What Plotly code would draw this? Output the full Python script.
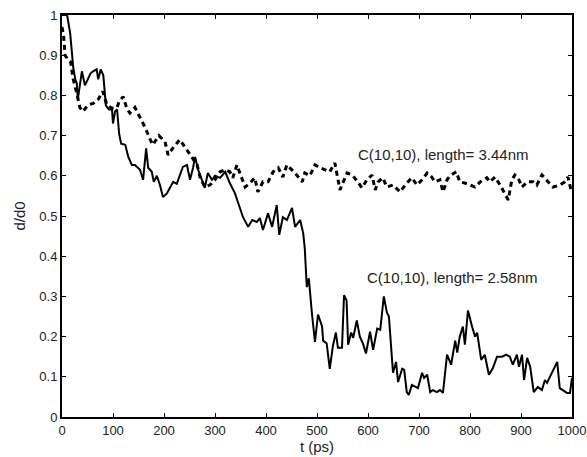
import plotly.graph_objects as go

# Solid curve: C(10,10), length = 2.58 nm
t_258 = [0, 5, 10, 16, 22, 26, 29, 31, 35, 39,
         45, 51, 56, 61, 68, 71, 76, 81, 86, 92,
         98, 100, 104, 108, 112, 116, 124, 130, 137, 143,
         153, 159, 165, 169, 176, 180, 186, 192, 198, 206,
         212, 218, 225, 231, 237, 245, 251, 257, 261, 267,
         274, 280, 286, 294, 300, 310, 320, 329, 339, 349,
         355, 365, 373, 382, 388, 394, 404, 412, 421, 426,
         433, 441, 451, 457, 467, 473, 476, 480, 484, 490,
         496, 502, 510, 512, 519, 525, 531, 537, 541, 549,
         553, 558, 561, 567, 571, 578, 584, 590, 596, 604,
         610, 618, 624, 631, 637, 641, 649, 655, 659, 667,
         671, 676, 680, 686, 692, 698, 706, 710, 716, 722,
         727, 735, 741, 747, 755, 763, 771, 775, 780, 786,
         790, 796, 804, 810, 814, 822, 829, 837, 845, 853,
         863, 871, 878, 884, 892, 896, 902, 906, 912, 918,
         925, 933, 941, 947, 951, 961, 971, 976, 982, 990,
         996, 1000]
d_258 = [1.0, 1.0, 1.0, 0.955, 0.87, 0.84, 0.83, 0.79, 0.83, 0.86,
         0.825, 0.84, 0.855, 0.86, 0.865, 0.84, 0.865, 0.85, 0.775, 0.765,
         0.765, 0.73, 0.76, 0.765, 0.705, 0.68, 0.677, 0.647, 0.627, 0.627,
         0.615, 0.59, 0.668, 0.62, 0.61, 0.585, 0.60, 0.577, 0.547, 0.557,
         0.57, 0.585, 0.58, 0.60, 0.622, 0.627, 0.59, 0.62, 0.647, 0.615,
         0.59, 0.57, 0.607, 0.59, 0.60, 0.595, 0.61, 0.582, 0.557, 0.522,
         0.497, 0.473, 0.49, 0.485, 0.495, 0.465, 0.507, 0.473, 0.527, 0.453,
         0.497, 0.49, 0.52, 0.473, 0.49, 0.457, 0.42, 0.323, 0.345, 0.258,
         0.187, 0.255, 0.225, 0.19, 0.183, 0.12, 0.175, 0.21, 0.172, 0.172,
         0.303, 0.29, 0.18, 0.21, 0.197, 0.24, 0.2, 0.183, 0.158, 0.212,
         0.167, 0.22, 0.217, 0.30, 0.26, 0.25, 0.11, 0.137, 0.087, 0.12,
         0.117, 0.062, 0.055, 0.08, 0.075, 0.072, 0.11, 0.097, 0.105, 0.062,
         0.067, 0.062, 0.067, 0.06, 0.155, 0.13, 0.19, 0.16, 0.2, 0.225,
         0.18, 0.265, 0.225, 0.2, 0.21, 0.142, 0.155, 0.105, 0.122, 0.15,
         0.15, 0.155, 0.15, 0.13, 0.155, 0.125, 0.155, 0.092, 0.147, 0.125,
         0.062, 0.075, 0.067, 0.092, 0.085, 0.11, 0.137, 0.072, 0.067, 0.06,
         0.06, 0.097]

# Dashed curve: C(10,10), length = 3.44 nm
t_344 = [0, 3, 6, 12, 17, 22, 29, 35, 41, 51,
         61, 71, 80, 88, 98, 108, 112, 120, 127, 133,
         143, 149, 163, 173, 178, 190, 202, 208, 218, 231,
         245, 255, 265, 271, 280, 290, 300, 310, 320, 329,
         335, 343, 349, 359, 369, 378, 384, 394, 404, 414,
         424, 433, 441, 447, 457, 471, 476, 486, 496, 506,
         515, 525, 535, 539, 545, 559, 569, 580, 588, 598,
         608, 614, 620, 629, 637, 649, 663, 676, 686, 696,
         706, 716, 725, 731, 741, 747, 755, 761, 773, 780,
         790, 800, 810, 820, 833, 839, 849, 859, 867, 875,
         882, 888, 894, 902, 912, 924, 931, 941, 947, 953,
         963, 976, 986, 992, 998]
d_344 = [0.97, 0.95, 0.9, 0.888, 0.883, 0.84, 0.805, 0.77, 0.76, 0.776,
         0.78, 0.79, 0.81, 0.776, 0.768, 0.77, 0.785, 0.797, 0.768, 0.756,
         0.77, 0.756, 0.72, 0.69, 0.677, 0.70, 0.685, 0.652, 0.67, 0.69,
         0.665, 0.645, 0.627, 0.595, 0.572, 0.577, 0.59, 0.61, 0.615, 0.61,
         0.595, 0.627, 0.607, 0.572, 0.582, 0.595, 0.56, 0.585, 0.585, 0.61,
         0.62, 0.597, 0.627, 0.62, 0.607, 0.585, 0.607, 0.60, 0.627, 0.62,
         0.615, 0.61, 0.632, 0.602, 0.565, 0.607, 0.602, 0.585, 0.57, 0.59,
         0.602, 0.565, 0.585, 0.595, 0.572, 0.577, 0.56, 0.582, 0.595, 0.577,
         0.59, 0.607, 0.597, 0.585, 0.59, 0.56, 0.59, 0.60, 0.61, 0.585,
         0.582, 0.577, 0.572, 0.585, 0.595, 0.585, 0.597, 0.577, 0.56, 0.54,
         0.59, 0.602, 0.595, 0.572, 0.585, 0.585, 0.577, 0.602, 0.595, 0.585,
         0.572, 0.577, 0.585, 0.597, 0.565]

x_ticks = [0, 100, 200, 300, 400, 500, 600, 700, 800, 900, 1000]
y_ticks = [0, 0.1, 0.2, 0.3, 0.4, 0.5, 0.6, 0.7, 0.8, 0.9, 1]
y_tick_text = ["0", "0.1", "0.2", "0.3", "0.4", "0.5", "0.6", "0.7", "0.8", "0.9", "1"]
label_344 = "C(10,10), length= 3.44nm"
label_258 = "C(10,10), length= 2.58nm"

FONT = "Liberation Sans, Arial, sans-serif"
TICK_FS = 13
TEXT_FS = 15

fig = go.Figure()
fig.add_trace(go.Scatter(x=t_344, y=d_344, mode="lines",
                         line=dict(color="black", width=3, dash="5px,4px"),
                         showlegend=False))
fig.add_trace(go.Scatter(x=t_258, y=d_258, mode="lines",
                         line=dict(color="black", width=2),
                         showlegend=False))

fig.add_annotation(x=577, y=0.652, text=label_344, showarrow=False,
                   xanchor="left", yanchor="middle",
                   font=dict(family=FONT, size=TEXT_FS, color="#222"))
fig.add_annotation(x=594, y=0.348, text=label_258, showarrow=False,
                   xanchor="left", yanchor="middle",
                   font=dict(family=FONT, size=TEXT_FS, color="#222"))

axis_common = dict(showgrid=False, zeroline=False, showline=True,
                   linecolor="black", linewidth=2, mirror="ticks",
                   ticks="inside", ticklen=4, tickwidth=1, tickcolor="black",
                   automargin=False, ticklabeloverflow="allow",
                   tickfont=dict(family=FONT, size=TICK_FS, color="#222"))

fig.update_xaxes(range=[0, 1000], tickvals=x_ticks,
                 ticktext=[str(v) for v in x_ticks],
                 title=dict(text="t (ps)", standoff=2,
                            font=dict(family=FONT, size=TEXT_FS, color="#222")),
                 **axis_common)
fig.update_yaxes(range=[0, 1], tickvals=y_ticks, ticktext=y_tick_text,
                 title=dict(text="d/d0", standoff=10,
                            font=dict(family=FONT, size=TEXT_FS, color="#222")),
                 **axis_common)

fig.update_layout(width=587, height=457,
                  margin=dict(l=62, r=15, t=15, b=40),
                  plot_bgcolor="white", paper_bgcolor="white")

fig.write_html("out.html", config={"displayModeBar": False},
               post_script="document.body.style.margin='0';document.body.style.overflow='hidden';")
